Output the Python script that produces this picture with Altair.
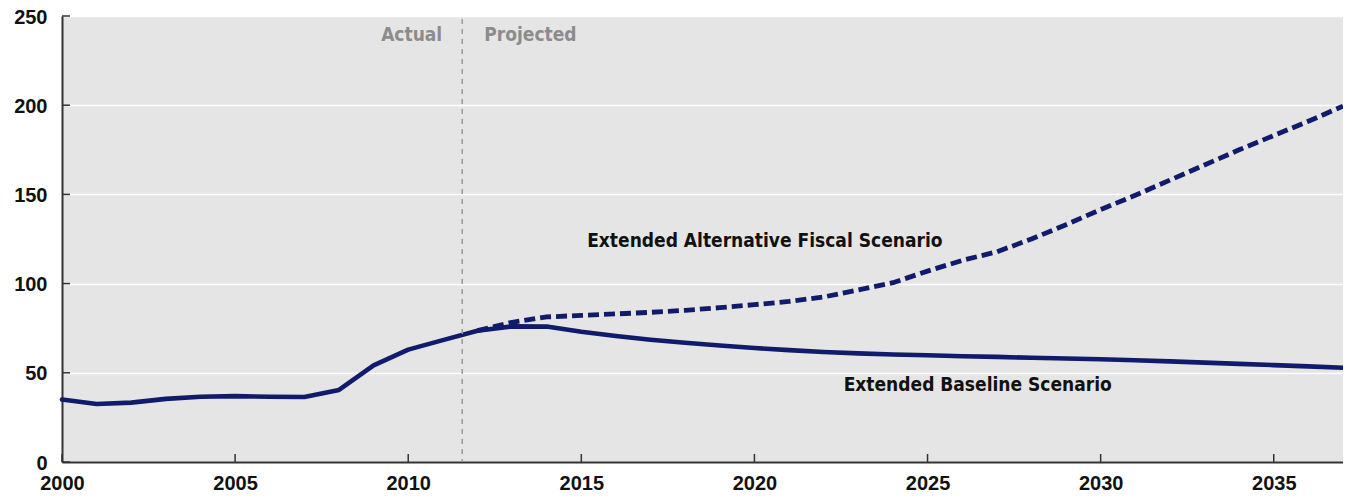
import altair as alt
import pandas as pd

# ---- data ----
years = list(range(2000, 2038))
baseline = [35.0, 32.5, 33.3, 35.4, 36.6, 36.9, 36.6, 36.4, 40.4, 54.2,
            63.0, 68.3, 73.6, 76.0, 75.9, 73.0, 70.6, 68.5, 66.8, 65.3,
            63.9, 62.7, 61.7, 60.9, 60.3, 59.8, 59.3, 58.9, 58.4, 58.0,
            57.6, 57.0, 56.4, 55.7, 55.0, 54.3, 53.6, 52.8]

alt_years = list(range(2012, 2038))
alternative = [73.6, 78.3, 81.3, 82.2, 83.0, 83.9, 85.0, 86.5, 88.2, 90.0,
               92.5, 96.5, 100.5, 107.0, 113.0, 117.8, 125.0, 133.0, 141.5, 149.5,
               158.0, 166.5, 175.0, 183.0, 191.0, 199.5]

x_ticks = [2000, 2005, 2010, 2015, 2020, 2025, 2030, 2035]
y_ticks = [0, 50, 100, 150, 200, 250]
divider_year = 2011.56

series_labels = ["Extended Alternative Fiscal Scenario", "Extended Baseline Scenario"]
label_years = [2020.3, 2026.45]
label_values = [124.0, 43.0]

period_labels = ["Actual", "Projected"]

# ---- tables ----
base_df = pd.DataFrame({"year": years, "value": baseline})
alt_df = pd.DataFrame({"year": alt_years, "value": alternative})
xt_df = pd.DataFrame({"year": x_ticks})
yt_df = pd.DataFrame({"value": y_ticks})
lab_df = pd.DataFrame({"year": label_years, "value": label_values, "text": series_labels})

W, H = 1281, 446
NAVY = "#101b6c"
AXIS_COL = "#333333"
FONT = "Liberation Sans"
NARROW = "DejaVu Sans Condensed, DejaVu Sans"

xscale = alt.Scale(domain=[2000, 2037], nice=False, zero=False)
yscale = alt.Scale(domain=[0, 250], nice=False)

xaxis = alt.Axis(values=x_ticks, format="d", title=None, ticks=False, grid=False,
                 labelFontSize=20, labelFontWeight="bold", labelFont=FONT,
                 labelColor="#111111", labelPadding=11, domainColor=AXIS_COL,
                 domainWidth=2, labelFlush=False)
yaxis = alt.Axis(values=y_ticks, title=None, ticks=False, grid=True,
                 gridColor="#ffffff", gridWidth=1.5, labelFontSize=20,
                 labelFontWeight="bold", labelFont=FONT, labelColor="#111111",
                 labelPadding=15, labelOffset=1, domainColor=AXIS_COL, domainWidth=2)

X = alt.X("year:Q", scale=xscale, axis=xaxis)
Y = alt.Y("value:Q", scale=yscale, axis=yaxis)

divider = alt.Chart(pd.DataFrame({"year": [divider_year]})).mark_rule(
    color="#999999", strokeWidth=1.5, strokeDash=[5, 5]
).encode(x=alt.X("year:Q", scale=xscale), y=alt.value(3), y2=alt.value(H))

base_line = alt.Chart(base_df).mark_line(color=NAVY, strokeWidth=4.6, strokeCap="round",
                                         strokeJoin="round").encode(x=X, y=Y)
alt_line = alt.Chart(alt_df).mark_line(color=NAVY, strokeWidth=4.8, strokeDash=[11, 5],
                                       strokeJoin="round").encode(x=X, y=Y)

xticks = alt.Chart(xt_df).mark_rule(color=AXIS_COL, strokeWidth=1.5).encode(
    x=alt.X("year:Q", scale=xscale), y=alt.value(H), y2=alt.value(H - 8))
yticks = alt.Chart(yt_df).mark_rule(color=AXIS_COL, strokeWidth=1.5).encode(
    y=alt.Y("value:Q", scale=yscale), x=alt.value(0), x2=alt.value(8))

labels = alt.Chart(lab_df).mark_text(font=NARROW, fontSize=19, fontWeight="bold",
                                     color="#111111", align="center", baseline="middle").encode(
    x=alt.X("year:Q", scale=xscale), y=alt.Y("value:Q", scale=yscale), text="text:N")

actual_txt = alt.Chart(pd.DataFrame({"year": [divider_year], "text": [period_labels[0]]})).mark_text(
    font=NARROW, fontSize=19, fontWeight="bold", color="#8c8c8c", align="right",
    baseline="middle", dx=-20).encode(x=alt.X("year:Q", scale=xscale), y=alt.value(19), text="text:N")
proj_txt = alt.Chart(pd.DataFrame({"year": [divider_year], "text": [period_labels[1]]})).mark_text(
    font=NARROW, fontSize=19, fontWeight="bold", color="#8c8c8c", align="left",
    baseline="middle", dx=22).encode(x=alt.X("year:Q", scale=xscale), y=alt.value(19), text="text:N")

chart = alt.layer(
    base_line, divider, alt_line, xticks, yticks, labels, actual_txt, proj_txt
).properties(
    width=W, height=H,
    autosize=alt.AutoSizeParams(type="none"),
    padding={"left": 54, "top": 8, "right": 0, "bottom": 32},
).configure_view(fill="#e5e5e5", stroke=None)

chart.save("out.html", embed_options={"renderer": "svg", "actions": False})
